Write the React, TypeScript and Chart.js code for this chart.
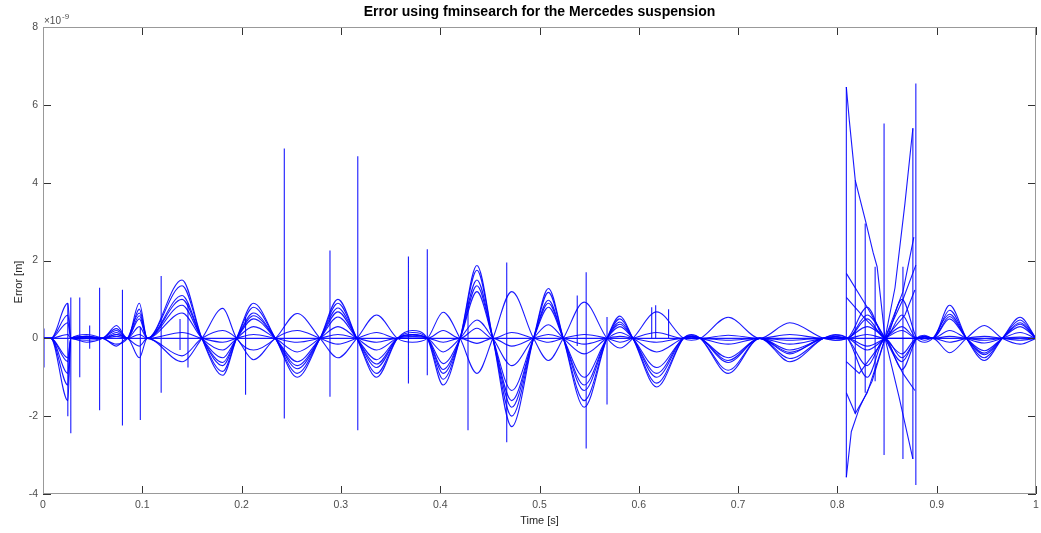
import { useEffect, useRef } from 'react';
import { Chart, registerables } from 'chart.js';

Chart.register(...registerables);

// zero crossings (s) shared by the oscillating error curves
const nodeTimes = [0, 0.008, 0.028, 0.06, 0.085, 0.105, 0.16, 0.195, 0.234, 0.279, 0.316, 0.357, 0.387, 0.42, 0.453, 0.494, 0.524, 0.568, 0.594, 0.645, 0.662, 0.722, 0.786, 0.81, 0.848, 0.88, 0.896, 0.93, 0.966, 1.0];
// time of the extreme of each lobe
const peakTimes = [0.004, 0.025, 0.044, 0.074, 0.097, 0.14, 0.181, 0.212, 0.256, 0.297, 0.336, 0.372, 0.403, 0.437, 0.472, 0.509, 0.545, 0.581, 0.618, 0.653, 0.69, 0.752, 0.798, 0.83, 0.865, 0.888, 0.913, 0.948, 0.984];

// lobe extremes (x1e-9 m) for each curve
const curve1 = [0, -1.6, 0.05, 0.33, 0.9, 1.5, -0.95, 0.9, -1.0, 1.0, -1.0, 0.2, -1.2, 1.87, -2.27, 1.28, -1.77, 0.57, -1.25, 0.1, -0.9, -0.6, 0.1, -1.0, -0.8, 0.08, 0.85, -0.57, 0.54];
const curve2 = [0, -1.2, -0.1, 0.25, 0.75, 1.35, -0.85, 0.8, -0.9, 0.9, -0.9, 0.15, -1.05, 1.75, -2.0, 1.18, -1.6, 0.5, -1.15, 0.08, -0.82, -0.52, 0.08, -0.7, -0.5, 0.05, 0.72, -0.5, 0.47];
const curve3 = [0, -0.9, 0.1, -0.15, 0.65, 1.1, -0.7, 0.65, -0.78, 0.78, -0.75, 0.1, -0.9, 1.5, -1.77, 0.98, -1.34, 0.42, -1.0, 0.05, -0.62, -0.4, -0.05, 0.8, 1.0, -0.1, 0.62, -0.42, 0.4];
const curve4 = [0, 0.9, -0.05, 0.2, 0.5, 0.85, -0.5, 0.5, -0.6, 0.55, -0.55, 0.08, -0.65, 1.2, -1.34, 0.8, -1.0, 0.3, -0.75, 0.05, -0.5, -0.3, 0.05, 0.5, 0.6, 0.05, 0.5, -0.32, 0.3];
const curve5 = [0, 0.6, 0.05, 0.1, 0.3, 0.65, -0.3, 0.3, -0.35, 0.3, -0.3, 0.05, -0.35, 0.47, -0.7, 0.35, -0.4, 0.15, -0.35, 0.03, -0.15, -0.15, 0.03, -0.3, 0.3, 0.03, 0.2, -0.12, 0.15];
const curve6 = [0, 0.4, 0, -0.2, -0.5, -0.6, 0.77, -0.3, 0.64, -0.5, 0.6, -0.1, 0.67, -0.9, 1.2, -0.57, 0.93, -0.25, 0.68, -0.05, 0.54, 0.4, -0.05, 0.3, -0.4, -0.05, -0.37, 0.33, -0.15];
const curve7 = [0, -0.5, 0.05, 0.1, -0.2, -0.45, 0.2, -0.55, 0.2, -0.15, 0.15, 0, 0.2, 0.26, 0.15, -0.1, 0.1, -0.1, 0.15, 0, 0.08, 0.1, 0, -0.2, 0.2, 0, -0.1, 0.05, -0.05];
const curve8 = [0, 0.1, 0, 0.05, 0.1, 0.15, -0.1, 0.1, -0.1, 0.1, -0.1, 0, -0.1, -0.13, -0.2, 0.1, -0.15, 0.05, -0.1, 0, -0.05, -0.05, 0, 0.1, 0, 0, 0.05, -0.05, 0.03];
const curve9 = [0, -0.6, 0.02, 0.15, 0.58, 1.0, -0.62, 0.58, -0.7, 0.68, -0.66, 0.1, -0.8, 1.35, -1.6, 0.9, -1.2, 0.36, -0.9, 0.04, -0.57, -0.36, 0.04, 0.6, -0.6, 0.04, 0.56, -0.38, 0.36];

// narrow spikes: time, upper and lower extreme
const spikeTimes = [0.001, 0.025, 0.028, 0.037, 0.047, 0.057, 0.08, 0.098, 0.119, 0.138, 0.146, 0.204, 0.243, 0.289, 0.317, 0.368, 0.387, 0.428, 0.467, 0.538, 0.547, 0.568, 0.613, 0.617, 0.63, 0.809, 0.818, 0.828, 0.838, 0.847, 0.866, 0.876, 0.879];
const spikeHigh = [0.25, 0.9, 1.05, 1.05, 0.33, 1.3, 1.25, 0.3, 1.6, 0.5, 0.9, 0.55, 4.88, 2.26, 4.68, 2.1, 2.29, 0.97, 1.95, 1.1, 1.7, 0.55, 0.8, 0.85, 0.75, 6.46, 4.06, 2.95, 1.84, 5.52, 1.84, 5.4, 6.55];
const spikeLow = [-0.75, -2.0, -2.44, -1.0, -0.27, -1.85, -2.24, -2.1, -1.4, -0.3, -0.75, -1.45, -2.06, -1.5, -2.36, -1.16, -0.95, -2.36, -2.67, -0.2, -2.83, -1.7, 0, 0, 0, -3.57, -1.93, -1.4, -1.1, -3.0, -3.1, -3.1, -3.77];

// burst between 0.81 s and 0.88 s
const burstATimes = [0.809, 0.812, 0.818, 0.829, 0.836, 0.84, 0.848, 0.862, 0.876];
const burstAValues = [6.46, 5.6, 4.06, 2.95, 2.2, 1.84, 0, -1.5, -3.1];
const burstBTimes = [0.809, 0.814, 0.822, 0.835, 0.848, 0.858, 0.868, 0.876];
const burstBValues = [-3.57, -2.4, -1.8, -1.1, 0, 1.3, 3.46, 5.4];
const burstCTimes = [0.809, 0.83, 0.848, 0.866, 0.879];
const burstCValues = [1.67, 0.8, 0, 1.0, 1.88];
const burstDTimes = [0.809, 0.828, 0.848, 0.868, 0.878];
const burstDValues = [1.05, 0.5, 0, 0.6, 1.24];
const burstETimes = [0.809, 0.818, 0.83, 0.848, 0.866, 0.878];
const burstEValues = [-1.4, -1.93, -1.4, 0, -0.9, -1.34];
const burstFTimes = [0.809, 0.822, 0.848, 0.866, 0.877];
const burstFValues = [-0.6, -0.9, 0, 1.2, 2.6];

const xTickValues = [0, 0.1, 0.2, 0.3, 0.4, 0.5, 0.6, 0.7, 0.8, 0.9, 1];
const xTickLabels = ['0', '0.1', '0.2', '0.3', '0.4', '0.5', '0.6', '0.7', '0.8', '0.9', '1'];
const yTickValues = [-4, -2, 0, 2, 4, 6, 8];
const yTickLabels = ['-4', '-2', '0', '2', '4', '6', '8'];

const FONT = '"Liberation Sans", Arial, Helvetica, sans-serif';
const BLUE = 'rgba(0,0,255,0.9)';

function lobeCurve(amps: number[]) {
  const pts: { x: number; y: number }[] = [];
  for (let i = 0; i < amps.length; i++) {
    pts.push({ x: nodeTimes[i], y: 0 });
    pts.push({ x: peakTimes[i], y: amps[i] });
  }
  pts.push({ x: nodeTimes[amps.length], y: 0 });
  return pts;
}

function spikePoints() {
  const pts: { x: number; y: number }[] = [{ x: 0, y: 0 }];
  for (let i = 0; i < spikeTimes.length; i++) {
    pts.push({ x: spikeTimes[i], y: 0 });
    pts.push({ x: spikeTimes[i], y: spikeHigh[i] });
    pts.push({ x: spikeTimes[i], y: spikeLow[i] });
    pts.push({ x: spikeTimes[i], y: 0 });
  }
  pts.push({ x: 1, y: 0 });
  return pts;
}

function zipPts(t: number[], v: number[]) {
  return t.map((x, i) => ({ x, y: v[i] }));
}

const framePlugin = {
  id: 'frame',
  afterDatasetsDraw(chart: any) {
    const { ctx, chartArea: a, scales } = chart;
    ctx.save();
    ctx.strokeStyle = '#333333';
    ctx.lineWidth = 1;
    ctx.beginPath();
    for (const v of xTickValues) {
      const px = Math.round(scales.x.getPixelForValue(v)) + 0.5;
      ctx.moveTo(px, a.bottom);
      ctx.lineTo(px, a.bottom - 8);
      ctx.moveTo(px, a.top);
      ctx.lineTo(px, a.top + 8);
    }
    for (const v of yTickValues) {
      const py = Math.round(scales.y.getPixelForValue(v)) + 0.5;
      ctx.moveTo(a.left, py);
      ctx.lineTo(a.left + 8, py);
      ctx.moveTo(a.right, py);
      ctx.lineTo(a.right - 8, py);
    }
    ctx.stroke();
    ctx.strokeStyle = '#999999';
    ctx.strokeRect(Math.round(a.left) + 0.5, Math.round(a.top) + 0.5, Math.round(a.width) - 1, Math.round(a.height) - 1);

    ctx.fillStyle = '#000000';
    ctx.font = 'bold 14px ' + FONT;
    ctx.textAlign = 'center';
    ctx.textBaseline = 'middle';
    ctx.fillText('Error using fminsearch for the Mercedes suspension', (a.left + a.right) / 2, 12);

    ctx.fillStyle = '#262626';
    ctx.font = '11px ' + FONT;
    ctx.fillText('Time [s]', (a.left + a.right) / 2, 521);
    ctx.save();
    ctx.translate(19, 282);
    ctx.rotate(-Math.PI / 2);
    ctx.fillText('Error [m]', 0, 0);
    ctx.restore();

    ctx.fillStyle = '#4d4d4d';
    ctx.textAlign = 'left';
    ctx.textBaseline = 'alphabetic';
    ctx.font = '10px ' + FONT;
    ctx.fillText('\u00d710', a.left + 1, 24);
    ctx.font = '8px ' + FONT;
    ctx.fillText('-9', a.left + 19, 19);
    ctx.restore();
  },
};

export default function App() {
  const ref = useRef<HTMLCanvasElement>(null);
  useEffect(() => {
    document.body.style.margin = '0';
    const curves = [curve1, curve2, curve3, curve4, curve5, curve6, curve7, curve8, curve9];
    const bursts = [
      [burstATimes, burstAValues],
      [burstBTimes, burstBValues],
      [burstCTimes, burstCValues],
      [burstDTimes, burstDValues],
      [burstETimes, burstEValues],
      [burstFTimes, burstFValues],
    ];
    const datasets: any[] = [];
    curves.forEach((c, i) =>
      datasets.push({
        label: 'curve' + (i + 1),
        data: lobeCurve(c),
        borderColor: BLUE,
        borderWidth: 1.1,
        pointRadius: 0,
        cubicInterpolationMode: 'monotone',
        fill: false,
      })
    );
    datasets.push({
      label: 'spikes',
      data: spikePoints(),
      borderColor: BLUE,
      borderWidth: 1.1,
      pointRadius: 0,
      tension: 0,
      fill: false,
    });
    bursts.forEach((b, i) =>
      datasets.push({
        label: 'burst' + i,
        data: zipPts(b[0], b[1]),
        borderColor: BLUE,
        borderWidth: 1.1,
        pointRadius: 0,
        tension: 0,
        fill: false,
      })
    );

    const chart = new Chart(ref.current as HTMLCanvasElement, {
      type: 'line',
      data: { datasets },
      options: {
        animation: false,
        responsive: false,
        layout: { padding: { top: 27, right: 5, left: 0, bottom: 0 } },
        plugins: { legend: { display: false }, tooltip: { enabled: false }, title: { display: false } },
        scales: {
          x: {
            type: 'linear',
            min: 0,
            max: 1,
            afterFit: (s: any) => {
              s.height = 39;
            },
            afterBuildTicks: (s: any) => {
              s.ticks = xTickValues.map((v) => ({ value: v }));
            },
            ticks: {
              padding: 0,
              color: '#4d4d4d',
              font: { family: FONT, size: 10.5 },
              maxRotation: 0,
              autoSkip: false,
              callback: (_v: any, i: number) => xTickLabels[i],
            },
            grid: { display: false, drawTicks: true, tickLength: 5 },
            border: { display: false },
          },
          y: {
            type: 'linear',
            min: -4,
            max: 8,
            afterFit: (s: any) => {
              s.width = 43;
            },
            afterBuildTicks: (s: any) => {
              s.ticks = yTickValues.map((v) => ({ value: v }));
            },
            ticks: {
              padding: 5,
              color: '#4d4d4d',
              font: { family: FONT, size: 10.5 },
              autoSkip: false,
              callback: (_v: any, i: number) => yTickLabels[i],
            },
            grid: { display: false, drawTicks: false },
            border: { display: false },
          },
        },
      },
      plugins: [framePlugin],
    });
    return () => chart.destroy();
  }, []);
  return (
    <div style={{ width: 1041, height: 533, background: '#ffffff' }}>
      <canvas ref={ref} width={1041} height={533} />
    </div>
  );
}
